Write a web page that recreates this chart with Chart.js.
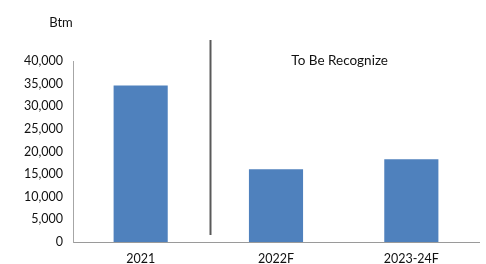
<!DOCTYPE html>
<html><head><meta charset="utf-8">
<script src="https://cdn.jsdelivr.net/npm/chart.js@4/dist/chart.umd.min.js"></script>
<style>html,body{margin:0;padding:0;background:#fff;}#wrap{width:486px;height:264px;}</style>
</head><body><div id="wrap"><canvas id="c" width="486" height="264"></canvas></div>
<script>
const categories = ["2021", "2022F", "2023-24F"];
const values = [34600, 16100, 18300];
const yTicks = [0, 5000, 10000, 15000, 20000, 25000, 30000, 35000, 40000];
const unitLabel = "Btm";
const noteLabel = "To Be Recognize";
const FONT = "Lato, 'Open Sans', sans-serif";

const overlay = {
  id: 'overlay',
  afterDatasetsDraw(chart) {
    const ctx = chart.ctx, x = chart.scales.x, ca = chart.chartArea;
    const p0 = x.getPixelForValue(0), p1 = x.getPixelForValue(1), p2 = x.getPixelForValue(2);
    const lx = Math.round((p0 + p1) / 2 + 2) + 0.5;
    ctx.save();
    ctx.strokeStyle = '#595959';
    ctx.lineWidth = 2;
    ctx.beginPath();
    ctx.moveTo(lx, ca.top - 21);
    ctx.lineTo(lx, ca.bottom - 7);
    ctx.stroke();
    ctx.fillStyle = '#111';
    ctx.font = "13.5px " + FONT;
    ctx.textAlign = 'center';
    ctx.textBaseline = 'middle';
    ctx.fillText(noteLabel, (p1 + p2) / 2 - 4, ca.top);
    ctx.font = "13px " + FONT;
    ctx.fillText(unitLabel, 61, 23);
    ctx.restore();
  }
};

new Chart(document.getElementById('c'), {
  type: 'bar',
  data: {
    labels: categories,
    datasets: [{
      data: values,
      backgroundColor: '#4F81BD',
      borderWidth: 0,
      barPercentage: 0.4,
      categoryPercentage: 1.0
    }]
  },
  options: {
    responsive: false,
    animation: false,
    devicePixelRatio: 1,
    layout: { padding: { top: 61, right: 7, left: 0, bottom: 0 } },
    plugins: { legend: { display: false }, tooltip: { enabled: false } },
    scales: {
      x: {
        grid: { display: false, drawTicks: false },
        border: { color: '#9A9A9A', width: 1 },
        ticks: { color: '#111', font: { family: FONT, size: 12.5 }, padding: 9 },
        afterFit(s) { s.height = 22; }
      },
      y: {
        min: 0, max: 40000,
        afterBuildTicks(s) { s.ticks = yTicks.map(v => ({ value: v })); },
        grid: { display: false, drawOnChartArea: false, drawTicks: true, tickLength: 4, tickColor: '#A6A6A6' },
        border: { color: '#A6A6A6', width: 1 },
        ticks: {
          color: '#111', font: { family: FONT, size: 12.5 }, padding: 6,
          callback: v => v.toLocaleString('en-US')
        },
        afterFit(s) { s.width = 73; }
      }
    }
  },
  plugins: [overlay]
});
</script></body></html>
